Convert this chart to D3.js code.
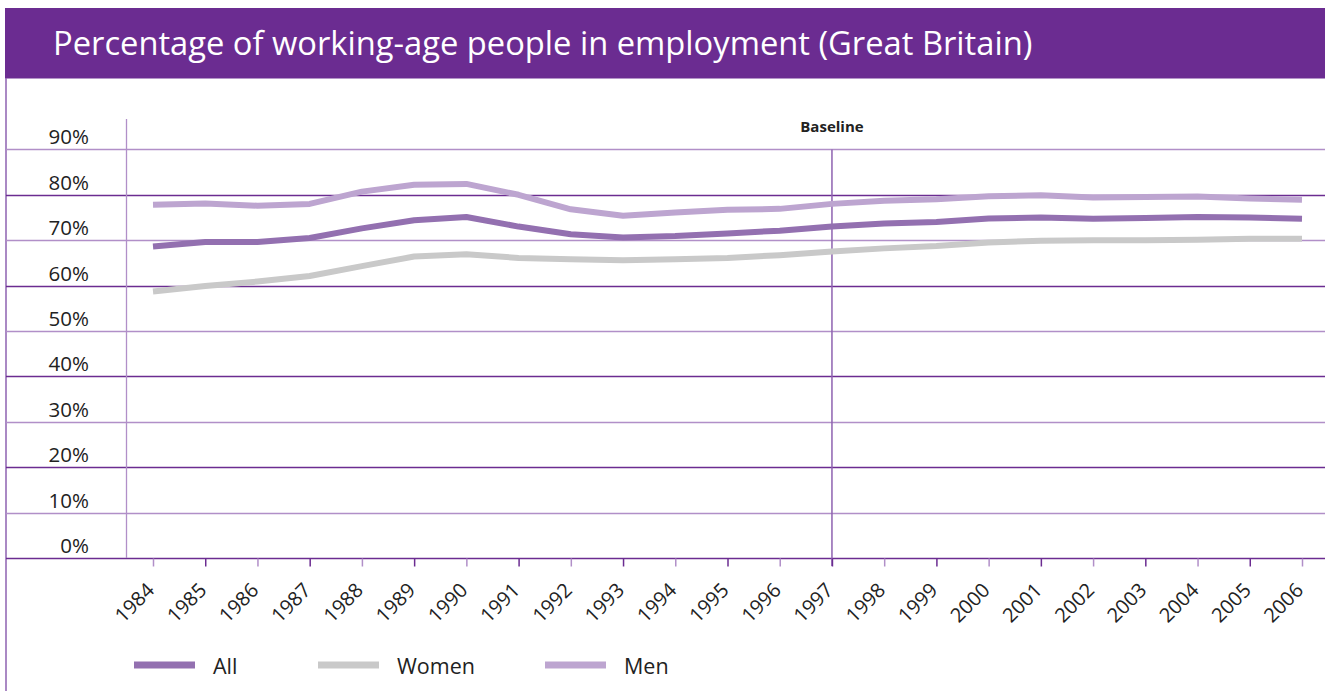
<!DOCTYPE html>
<html>
<head>
<meta charset="utf-8">
<script src="https://cdn.jsdelivr.net/npm/d3@7"></script>
<style>
  html, body { margin: 0; padding: 0; background: #fff; }
  svg { display: block; font-family: "Open Sans", "Noto Sans", sans-serif; }
</style>
</head>
<body>
<svg id="chart" width="1325" height="691"></svg>
<script>
// Employment rate, working-age people, Great Britain (%)
const years = [1984, 1985, 1986, 1987, 1988, 1989, 1990, 1991, 1992, 1993, 1994, 1995,
               1996, 1997, 1998, 1999, 2000, 2001, 2002, 2003, 2004, 2005, 2006];
const allPeople = [68.6, 69.6, 69.6, 70.5, 72.6, 74.4, 75.1, 73.0, 71.3, 70.6, 70.9, 71.5,
                   72.1, 73.0, 73.7, 74.0, 74.8, 75.0, 74.7, 74.9, 75.1, 75.0, 74.7];
const women = [58.7, 59.9, 60.9, 62.1, 64.3, 66.4, 66.9, 66.1, 65.8, 65.6, 65.8, 66.1,
               66.7, 67.5, 68.2, 68.7, 69.5, 69.9, 70.0, 70.0, 70.1, 70.3, 70.3];
const men = [77.8, 78.1, 77.6, 78.0, 80.7, 82.2, 82.4, 80.0, 76.8, 75.4, 76.1, 76.7,
             76.9, 78.0, 78.7, 79.0, 79.7, 79.9, 79.4, 79.5, 79.6, 79.2, 78.9];
const yTicks = [0, 10, 20, 30, 40, 50, 60, 70, 80, 90];
const baselineYear = 1997;
const titleText = "Percentage of working-age people in employment (Great Britain)";

const series = [
  { name: "All", values: allPeople, color: "#9370b0" },
  { name: "Women", values: women, color: "#c9c9c9" },
  { name: "Men", values: men, color: "#bda5d0" }
];

const W = 1325, H = 691;
const darkPurple = "#6b2c91", lightPurple = "#b18fc8", midPurple = "#8e62b0";
const svg = d3.select("#chart");

// Title banner
svg.append("rect").attr("x", 5).attr("y", 8).attr("width", W - 5).attr("height", 70.5)
  .attr("fill", "#6b2c91");
const title = svg.append("text").attr("x", 53).attr("y", 55)
  .attr("fill", "#fff").attr("font-size", 32).text(titleText);
// size the title so it runs to x = 1033
const tw = title.node().getComputedTextLength();
title.attr("font-size", 32 * (1033 - 53) / tw);

// Frame line down the left side
svg.append("line").attr("x1", 6).attr("x2", 6).attr("y1", 78).attr("y2", H)
  .attr("stroke", midPurple).attr("stroke-width", 1.5);

const x = d3.scaleLinear().domain([years[0], years[years.length - 1]]).range([153, 1302]);
const y = d3.scaleLinear().domain([0, 90]).range([558, 149.4]);

// Horizontal gridlines, alternating shades
svg.append("g").selectAll("line").data(yTicks).join("line")
  .attr("x1", 6).attr("x2", W)
  .attr("y1", d => Math.round(y(d)) + 0.5).attr("y2", d => Math.round(y(d)) + 0.5)
  .attr("stroke", d => (d / 10) % 2 === 0 ? darkPurple : lightPurple)
  .attr("stroke-width", 1.3);

// Y labels sit above their gridlines
svg.append("g").selectAll("text").data(yTicks).join("text")
  .attr("x", 89).attr("y", d => y(d) - 5)
  .attr("text-anchor", "end").attr("font-size", 20.5).attr("fill", "#222")
  .text(d => d + "%");

// Vertical axis divider
svg.append("line").attr("x1", 126.5).attr("x2", 126.5).attr("y1", 119).attr("y2", 558)
  .attr("stroke", lightPurple).attr("stroke-width", 1.3);

// Baseline marker
svg.append("line").attr("x1", x(baselineYear)).attr("x2", x(baselineYear))
  .attr("y1", y(90)).attr("y2", 566)
  .attr("stroke", midPurple).attr("stroke-width", 1.5);
svg.append("text").attr("x", x(baselineYear)).attr("y", 132)
  .attr("text-anchor", "middle").attr("font-size", 15).attr("font-weight", "bold")
  .attr("fill", "#222").text("Baseline");

// X axis ticks and rotated year labels
const xAxis = d3.axisBottom(x).tickValues(years).tickFormat(d3.format("d"))
  .tickSize(8).tickSizeOuter(0);
const gx = svg.append("g").attr("transform", "translate(0,558.5)").call(xAxis)
  .attr("font-size", null).attr("font-family", null);
gx.select(".domain").remove();
gx.selectAll(".tick line")
  .attr("stroke", (d, i) => i % 2 === 0 ? lightPurple : darkPurple)
  .attr("stroke-width", 1.5);
gx.selectAll(".tick text")
  .style("font-size", "20px").attr("fill", "#222")
  .attr("text-anchor", "end")
  .attr("transform", "translate(2,33) rotate(-45)")
  .attr("x", 0).attr("y", 0).attr("dy", 0);

// Series lines
const line = d3.line().x((d, i) => x(years[i])).y(d => y(d));
svg.append("g").selectAll("path").data(series).join("path")
  .attr("d", s => line(s.values))
  .attr("fill", "none").attr("stroke", s => s.color)
  .attr("stroke-width", 6).attr("stroke-linejoin", "round");

// Legend
const legendX = [134, 318, 545];
const lg = svg.append("g").selectAll("g").data(series).join("g")
  .attr("transform", (d, i) => `translate(${legendX[i]},665)`);
lg.append("line").attr("x1", 0).attr("x2", 61).attr("y1", 0).attr("y2", 0)
  .attr("stroke", d => d.color).attr("stroke-width", 7);
lg.append("text").attr("x", 79).attr("y", 8.5).attr("font-size", 21.5).attr("fill", "#222")
  .text(d => d.name);
</script>
</body>
</html>
